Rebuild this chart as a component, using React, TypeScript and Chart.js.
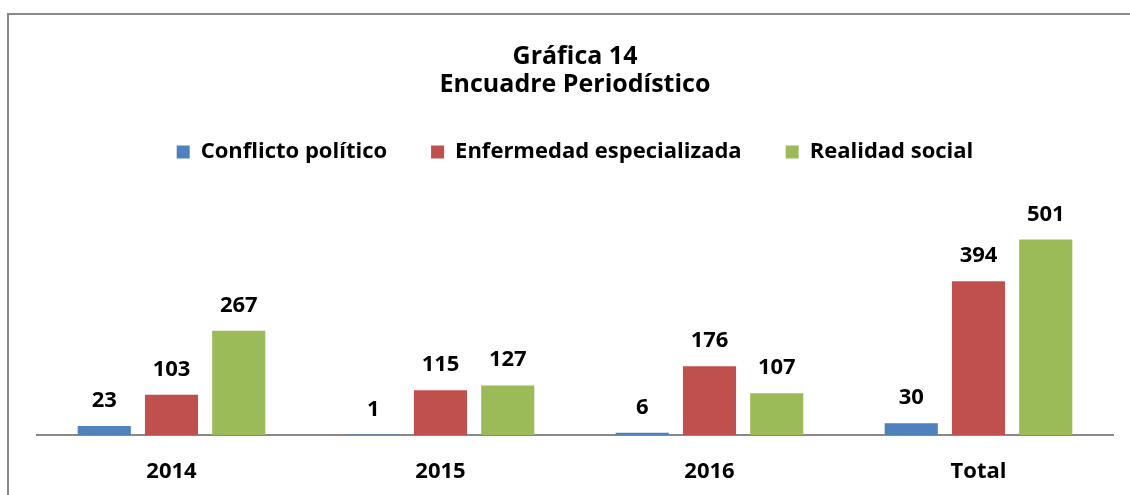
import React, { useEffect, useRef } from "react";
import { Chart, registerables } from "chart.js";

Chart.register(...registerables);

const categories = ["2014", "2015", "2016", "Total"];
const seriesNames = ["Conflicto político", "Enfermedad especializada", "Realidad social"];
const conflicto = [23, 1, 6, 30];
const enfermedad = [103, 115, 176, 394];
const realidad = [267, 127, 107, 501];
const titleLines = ["Gráfica 14", "Encuadre Periodístico"];

const colors = ["#4F81BD", "#C0504D", "#9BBB59"];
const FONT = "'Open Sans'";

const framePlugin = {
  id: "frame",
  beforeDraw(chart: any) {
    const ctx = chart.ctx;
    ctx.save();
    ctx.fillStyle = "#ffffff";
    ctx.fillRect(0, 0, chart.width, chart.height);
    ctx.strokeStyle = "#898989";
    ctx.lineWidth = 2;
    ctx.beginPath();
    ctx.moveTo(8, chart.height + 10);
    ctx.lineTo(8, 14);
    ctx.lineTo(chart.width + 10, 14);
    ctx.stroke();
    ctx.restore();
  },
};

const labelPlugin = {
  id: "barLabels",
  afterDatasetsDraw(chart: any) {
    const ctx = chart.ctx;
    ctx.save();
    ctx.font = `bold 22px ${FONT}`;
    ctx.fillStyle = "#000000";
    ctx.textAlign = "center";
    ctx.textBaseline = "alphabetic";
    chart.data.datasets.forEach((ds: any, di: number) => {
      const meta = chart.getDatasetMeta(di);
      meta.data.forEach((bar: any, i: number) => {
        ctx.fillText(String(ds.data[i]), bar.x, bar.y - 19);
      });
    });
    ctx.restore();
  },
};

export default function App() {
  const ref = useRef<HTMLCanvasElement>(null);
  useEffect(() => {
    if (!ref.current) return;
    const chart = new Chart(ref.current, {
      type: "bar",
      data: {
        labels: categories,
        datasets: [
          { label: seriesNames[0], data: conflicto, backgroundColor: colors[0] },
          { label: seriesNames[1], data: enfermedad, backgroundColor: colors[1] },
          { label: seriesNames[2], data: realidad, backgroundColor: colors[2] },
        ],
      },
      options: {
        animation: false,
        responsive: false,
        maintainAspectRatio: false,
        devicePixelRatio: 1,
        layout: { padding: { left: 37, right: 17, top: 0, bottom: 0 } },
        datasets: { bar: { barPercentage: 0.79, categoryPercentage: 0.75 } },
        plugins: {
          title: {
            display: true,
            text: titleLines,
            color: "#000000",
            font: { family: FONT, size: 25, weight: "bold", lineHeight: 28 / 25 },
            padding: { top: 43, bottom: -2 },
          },
          legend: {
            display: true,
            position: "top",
            labels: {
              color: "#000000",
              font: { family: FONT, size: 22, weight: "bold" },
              boxWidth: 13,
              boxHeight: 13,
              padding: 44,
            },
          },
          tooltip: { enabled: false },
        },
        scales: {
          x: {
            type: "category",
            position: "bottom",
            grid: { display: false, drawTicks: false, drawOnChartArea: false },
            border: { display: true, color: "#888888", width: 2 },
            ticks: {
              color: "#000000",
              font: { family: FONT, size: 22, weight: "bold" },
              padding: 24,
            },
            afterFit: (scale: any) => {
              scale.height = 60;
            },
          },
          xTop: {
            type: "category",
            position: "top",
            display: true,
            grid: { display: false, drawTicks: false },
            border: { display: false },
            ticks: { display: false },
            afterFit: (scale: any) => {
              scale.height = 28;
            },
          },
          y: {
            display: false,
            min: 0,
            max: 600,
          },
        },
      },
      plugins: [framePlugin, labelPlugin],
    } as any);
    return () => chart.destroy();
  }, []);
  return (
    <div style={{ position: "fixed", left: 0, top: 0, width: 1130, height: 495, background: "#fff" }}>
      <canvas ref={ref} width={1130} height={495} style={{ width: 1130, height: 495, display: "block" }} />
    </div>
  );
}
